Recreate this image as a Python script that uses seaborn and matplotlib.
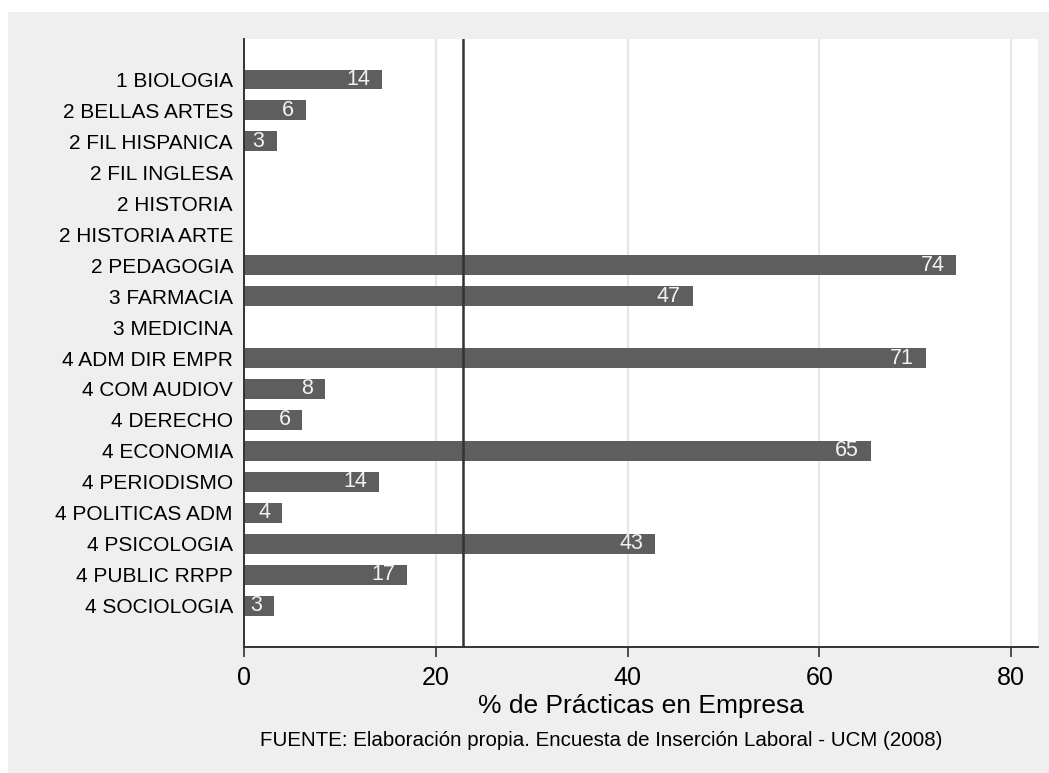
import pandas as pd
import seaborn as sns
import matplotlib.pyplot as plt
from matplotlib.patches import Rectangle

# Datos
titulaciones = ['1 BIOLOGIA', '2 BELLAS ARTES', '2 FIL HISPANICA', '2 FIL INGLESA',
                '2 HISTORIA', '2 HISTORIA ARTE', '2 PEDAGOGIA', '3 FARMACIA',
                '3 MEDICINA', '4 ADM DIR EMPR', '4 COM AUDIOV', '4 DERECHO',
                '4 ECONOMIA', '4 PERIODISMO', '4 POLITICAS ADM', '4 PSICOLOGIA',
                '4 PUBLIC RRPP', '4 SOCIOLOGIA']
pct_practicas = [14.4, 6.45, 3.4, 0, 0, 0, 74.3, 46.8, 0, 71.1, 8.4, 6.1,
                 65.4, 14.1, 4.0, 42.9, 17.0, 3.1]
media_total = 22.8
xticks = [0, 20, 40, 60, 80]

df = pd.DataFrame({'titulacion': titulaciones, 'pct': pct_practicas})

sns.set_style('white')
plt.rcParams['font.family'] = ['Liberation Sans', 'DejaVu Sans']

fig = plt.figure(figsize=(10.49, 7.73), dpi=100, facecolor='white')
# fondo gris tipo Stata
fig.patches.append(Rectangle((8 / 1049, 0), 1 - 8 / 1049, 1 - 12 / 773,
                             transform=fig.transFigure, facecolor='#efefef',
                             edgecolor='none', zorder=-10))
ax = fig.add_axes([244 / 1049, 1 - 647 / 773, (1038 - 244) / 1049, (647 - 39) / 773])
ax.set_facecolor('white')

sns.barplot(data=df, x='pct', y='titulacion', orient='h', color='#5e5e5e',
            saturation=1, width=0.63, linewidth=0, ax=ax)

# etiquetas dentro de las barras
for i, v in enumerate(pct_practicas):
    if v > 0:
        ax.annotate(f'{round(v):d}', xy=(v, i), xytext=(-12, 0),
                    textcoords='offset pixels', ha='right', va='center',
                    color='#f2f2f2', fontsize=15.5)

ax.axvline(media_total, color='#333333', lw=1.8, zorder=3)

ax.set_xlim(0, 82.8)
ax.set_ylim(18.33, -1.3)
ax.set_xticks(xticks)
ax.grid(axis='x', color='#e6e6e6', lw=1.5)
ax.set_axisbelow(True)

for s in ['top', 'right']:
    ax.spines[s].set_visible(False)
for s in ['left', 'bottom']:
    ax.spines[s].set_color('#333333')
    ax.spines[s].set_linewidth(1.4)

ax.tick_params(axis='y', length=0, pad=8, labelsize=15, labelcolor='black')
ax.tick_params(axis='x', length=7, width=1.2, color='#333333', pad=7,
               labelsize=18, labelcolor='black', direction='out', bottom=True)

ax.set_ylabel('')
ax.set_xlabel('% de Prácticas en Empresa', fontsize=19, color='black')
ax.xaxis.set_label_coords(0.5, -0.1087)
ax.xaxis.label.set_va('baseline')

fig.text(601 / 1049, 1 - 745.7 / 773,
         'FUENTE: Elaboración propia. Encuesta de Inserción Laboral - UCM (2008)',
         ha='center', va='baseline', fontsize=14.8, color='black')

fig.savefig('out.png', dpi=100, facecolor=fig.get_facecolor())
